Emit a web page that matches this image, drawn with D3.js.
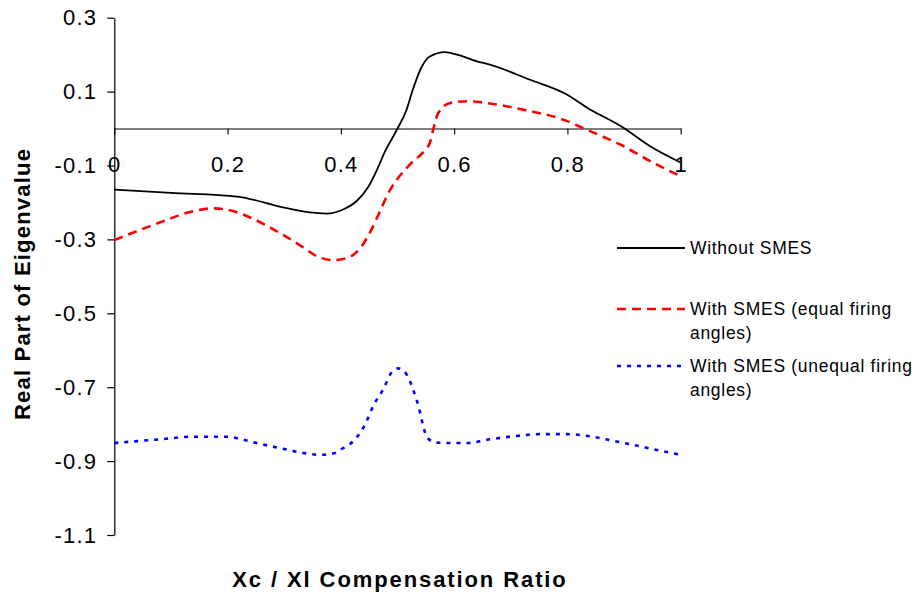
<!DOCTYPE html>
<html>
<head>
<meta charset="utf-8">
<script src="https://cdn.jsdelivr.net/npm/d3@7"></script>
<style>
  body { margin: 0; background: #fff; }
  svg { display: block; font-family: "Liberation Sans", Arial, sans-serif; }
</style>
</head>
<body>
<svg id="chart" width="920" height="595"></svg>
<script>
// Compensation ratio samples and real part of the critical eigenvalue
const ratioWithout = [0, 0.1, 0.217, 0.3, 0.345, 0.375, 0.404, 0.428, 0.448, 0.464, 0.478, 0.499,
  0.516, 0.527, 0.543, 0.557, 0.584, 0.605, 0.640, 0.663, 0.734, 0.799, 0.834, 0.898, 0.946, 1.0];
const eigWithout = [-0.165, -0.174, -0.184, -0.214, -0.227, -0.230, -0.219, -0.196, -0.159, -0.111, -0.062, -0.003,
  0.051, 0.105, 0.168, 0.195, 0.207, 0.200, 0.182, 0.173, 0.132, 0.092, 0.057, 0.003, -0.048, -0.092];

const ratioEqual = [0, 0.07, 0.139, 0.174, 0.198, 0.240, 0.287, 0.334, 0.357, 0.387, 0.416, 0.437, 0.454,
  0.469, 0.484, 0.499, 0.522, 0.549, 0.557, 0.563, 0.572, 0.593, 0.622, 0.663, 0.728, 0.793, 0.834,
  0.893, 0.952, 1.0];
const eigEqual = [-0.302, -0.260, -0.224, -0.216, -0.219, -0.241, -0.278, -0.322, -0.345, -0.356, -0.347, -0.318, -0.273,
  -0.224, -0.174, -0.138, -0.097, -0.057, -0.039, -0.003, 0.042, 0.069, 0.074, 0.068, 0.049, 0.024, -0.003,
  -0.043, -0.093, -0.129];

const ratioUnequal = [0, 0.040, 0.081, 0.139, 0.198, 0.225, 0.251, 0.293, 0.334, 0.363, 0.390, 0.398, 0.416,
  0.428, 0.444, 0.457, 0.475, 0.490, 0.501, 0.516, 0.527, 0.537, 0.547, 0.552, 0.569, 0.599, 0.622,
  0.663, 0.710, 0.752, 0.799, 0.840, 0.881, 0.916, 0.958, 1.0];
const eigUnequal = [-0.851, -0.846, -0.841, -0.834, -0.834, -0.841, -0.851, -0.865, -0.878, -0.883, -0.878, -0.870, -0.854,
  -0.836, -0.797, -0.751, -0.705, -0.659, -0.649, -0.665, -0.704, -0.751, -0.814, -0.836, -0.850, -0.851, -0.851,
  -0.841, -0.832, -0.827, -0.827, -0.833, -0.845, -0.856, -0.870, -0.883];

const yTickValues = [0.3, 0.1, -0.1, -0.3, -0.5, -0.7, -0.9, -1.1];
const yTickLabels = ["0.3", "0.1", "-0.1", "-0.3", "-0.5", "-0.7", "-0.9", "-1.1"];
const xTickValues = [0, 0.2, 0.4, 0.6, 0.8, 1];
const xTickLabels = ["0", "0.2", "0.4", "0.6", "0.8", "1"];

const seriesNames = [["Without SMES"], ["With SMES (equal firing", "angles)"], ["With SMES (unequal firing", "angles)"]];
const seriesColors = ["#000000", "#ff0000", "#0000ff"];

const svg = d3.select("#chart");
const x = d3.scaleLinear().domain([0, 1]).range([114.3, 680.7]);
const y = d3.scaleLinear().domain([-1.1, 0.3]).range([535, 17.7]);

// Vertical axis with ticks at every label
const yAxis = d3.axisLeft(y).tickValues(yTickValues).tickSize(7).tickSizeOuter(0)
  .tickFormat((d, i) => yTickLabels[i]);
const gy = svg.append("g").attr("transform", `translate(${x(0)},0)`).call(yAxis);
gy.select(".domain").attr("stroke", "#000").attr("stroke-width", 1.2);
gy.selectAll(".tick line").attr("stroke", "#000").attr("stroke-width", 1.2);
gy.selectAll(".tick text").attr("x", -17).attr("font-size", 22).attr("letter-spacing", "1.2px")
  .attr("fill", "#000").attr("font-family", "Liberation Sans, Arial, sans-serif");

// Horizontal axis drawn along the zero line
const xAxis = d3.axisBottom(x).tickValues(xTickValues).tickSize(6).tickSizeOuter(0)
  .tickFormat((d, i) => xTickLabels[i]);
const gx = svg.append("g").attr("transform", `translate(0,${y(0)})`).call(xAxis);
gx.select(".domain").attr("stroke", "#000").attr("stroke-width", 1.1);
gx.selectAll(".tick line").attr("stroke", "#000").attr("stroke-width", 1.1);
gx.selectAll(".tick text").attr("y", 27.5).attr("font-size", 22).attr("letter-spacing", "1.2px")
  .attr("fill", "#000").attr("font-family", "Liberation Sans, Arial, sans-serif");

// Curves
const line = d3.line().x(d => x(d[0])).y(d => y(d[1])).curve(d3.curveMonotoneX);
const series = [
  { xs: ratioWithout, ys: eigWithout, color: seriesColors[0], width: 1.8, dash: null },
  { xs: ratioEqual, ys: eigEqual, color: seriesColors[1], width: 2.6, dash: "9,6" },
  { xs: ratioUnequal, ys: eigUnequal, color: seriesColors[2], width: 2.6, dash: "4,6" }
];
series.forEach(s => {
  svg.append("path")
    .datum(d3.zip(s.xs, s.ys))
    .attr("fill", "none")
    .attr("stroke", s.color)
    .attr("stroke-width", s.width)
    .attr("stroke-dasharray", s.dash)
    .attr("d", line);
});

// Legend
const legendRows = [248, 309, 366];
const legend = svg.append("g");
series.forEach((s, i) => {
  const ly = legendRows[i];
  legend.append("line")
    .attr("x1", 617).attr("x2", 685).attr("y1", ly).attr("y2", ly)
    .attr("stroke", s.color).attr("stroke-width", s.width).attr("stroke-dasharray", s.dash);
  seriesNames[i].forEach((txt, j) => {
    legend.append("text")
      .attr("x", 690).attr("y", ly + j * 24).attr("dy", "0.35em")
      .attr("font-size", 17.5).attr("letter-spacing", "0.7px").attr("fill", "#000")
      .text(txt);
  });
});

// Axis titles
svg.append("text")
  .attr("x", 400).attr("y", 579).attr("dy", "0.35em").attr("text-anchor", "middle")
  .attr("font-size", 22).attr("font-weight", "bold").attr("letter-spacing", "1.9px")
  .text("Xc / Xl Compensation Ratio");
svg.append("text")
  .attr("transform", "translate(22,284) rotate(-90)").attr("dy", "0.35em").attr("text-anchor", "middle")
  .attr("font-size", 22).attr("font-weight", "bold").attr("letter-spacing", "1.2px")
  .text("Real Part of Eigenvalue");
</script>
</body>
</html>
